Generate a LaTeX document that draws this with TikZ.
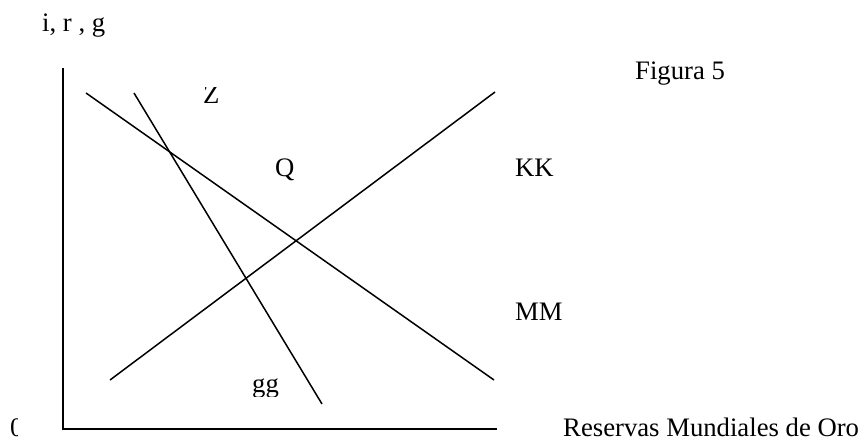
\documentclass[tikz,border=0pt]{standalone}
\usepackage{fontspec}
\setmainfont{Liberation Serif}
\tikzstyle{lbl} = [inner sep=0pt, anchor=base west, font=\fontsize{26.7}{30}\selectfont]
\tikzstyle{axis} = [line width=1.6pt]
\tikzstyle{curve} = [line width=1.5pt]
\begin{document}
\begin{tikzpicture}[x=1pt, y=-1pt]
    \useasboundingbox (0,0) rectangle (861,441);
    % ejes
    \coordinate (top) at (63,68);
    \coordinate (origin) at (63,429);
    \coordinate (right) at (497,429);
    \draw [axis] (top) -- (origin) -- (right);
    % curvas
    \coordinate (mmA) at (86,93);
    \coordinate (mmB) at (494,380);
    \coordinate (zA) at (134,93);
    \coordinate (zB) at (322,404);
    \coordinate (kkA) at (110,380);
    \coordinate (kkB) at (495,92);
    \draw [curve] (mmA) -- (mmB);
    \draw [curve] (zA) -- (zB);
    \draw [curve] (kkA) -- (kkB);
    % etiquetas
    \node (ylabel) [lbl] at (42,32) {i, r , g};
    \node (fig) [lbl] at (635,80) {Figura 5};
    \node (q) [lbl] at (275,176) {Q};
    \node (kk) [lbl] at (515,176) {KK};
    \node (mm) [lbl] at (515,320) {MM};
    \node (xlabel) [lbl] at (563,436) {Reservas Mundiales de Oro};
    \begin{scope}
        \clip (195,88) rectangle (225,112);
        \node (z) [lbl] at (203,103) {Z};
    \end{scope}
    \begin{scope}
        \clip (240,365) rectangle (290,396);
        \node (gg) [lbl] at (252,392) {gg};
    \end{scope}
    \begin{scope}
        \clip (0,410) rectangle (17,441);
        \node (zero) [lbl] at (10,436) {0};
    \end{scope}
\end{tikzpicture}
\end{document}
